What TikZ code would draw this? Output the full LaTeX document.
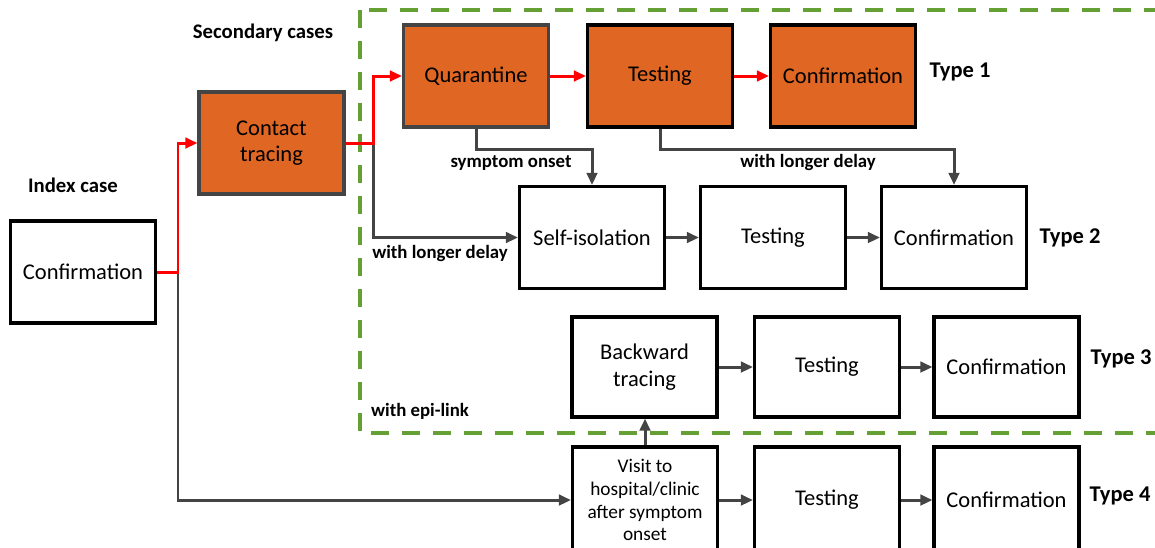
\documentclass[tikz,border=0pt]{standalone}
\usepackage{fontspec}
\setmainfont{Carlito}
\usepackage{tikz}
\usetikzlibrary{arrows.meta}

\definecolor{boxorange}{RGB}{224,102,35}
\definecolor{linegray}{RGB}{68,68,68}
\definecolor{epigreen}{RGB}{100,160,52}

\tikzset{
  stage/.style={draw=black, line width=1.8pt, fill=white, align=center,
    minimum width=29mm, minimum height=20.4mm, inner sep=1pt,
    font=\fontsize{12.8}{15}\selectfont},
  stagesmall/.style={stage, minimum height=20mm},
  active/.style={stage, fill=boxorange, draw=linegray},
  redline/.style={draw=red, line width=1.7pt, -{Triangle[length=2.4mm,width=2.1mm]}},
  grayline/.style={draw=linegray, line width=1.7pt, -{Triangle[length=2.4mm,width=2.1mm]}},
  note/.style={font=\bfseries\fontsize{10.7}{12}\selectfont},
  typelabel/.style={font=\bfseries\fontsize{12.8}{14}\selectfont},
  grouplabel/.style={font=\bfseries\fontsize{11.8}{13}\selectfont}
}

\begin{document}
\begin{tikzpicture}[x=0.2mm,y=-0.2mm]
\useasboundingbox (0,0) rectangle (1155,547);

\draw[epigreen, line width=2.2pt, dash pattern=on 3.6mm off 2.6mm] (360,10) rectangle (1175,433);

\node[stage] (idx) at (83,272) {Confirmation};
\node[active] (ct) at (271.5,143) {Contact\\tracing};

\node[active] (quar) at (476,76) {Quarantine};
\node[active, draw=black] (test1) at (660,76) {Testing};
\node[active, draw=black] (conf1) at (843,76) {Confirmation};

\node[stage] (iso) at (592,237.5) {Self-isolation};
\node[stage] (test2) at (773,237.5) {Testing};
\node[stage] (conf2) at (954,237.5) {Confirmation};

\node[stagesmall] (back) at (644.5,367) {Backward\\tracing};
\node[stagesmall] (test3) at (827,367) {Testing};
\node[stagesmall] (conf3) at (1006.5,367) {Confirmation};

\node[stagesmall, minimum height=21.2mm, font=\fontsize{11}{13}\selectfont] (visit) at (645,500) {Visit to\\hospital/clinic\\after symptom\\onset};
\node[stagesmall, minimum height=21.2mm] (test4) at (827,500) {Testing};
\node[stagesmall, minimum height=21.2mm] (conf4) at (1006.5,500) {Confirmation};

\node[grouplabel] (seclab) at (263,33) {Secondary cases};
\node[grouplabel] (idxlab) at (73,185) {Index case};
\node[typelabel] (type1) at (960,72) {Type 1};
\node[typelabel] (type2) at (1070,238) {Type 2};
\node[typelabel] (type3) at (1121,359) {Type 3};
\node[typelabel] (type4) at (1120,496) {Type 4};
\node[note] (onset) at (511,163) {symptom onset};
\node[note] (delay1) at (808,162) {with longer delay};
\node[note] (delay2) at (440,253) {with longer delay};
\node[note] (epi) at (420,411) {with epi-link};

\coordinate (j1) at (178,272);
\coordinate (j2) at (373,143);

\draw[grayline] (j1) |- (visit.west);
\draw[grayline] (j2) |- (iso.west);
\draw[redline] (idx.east) -- (j1) |- (ct.west);
\draw[redline] (ct.east) -- (j2) |- (quar.west);
\draw[redline] (quar) -- (test1);
\draw[redline] (test1) -- (conf1);

\draw[grayline] (quar.south) -- ++(0,21) -| (iso.north);
\draw[grayline] (test1.south) -- ++(0,21) -| (conf2.north);
\draw[grayline] (iso) -- (test2);
\draw[grayline] (test2) -- (conf2);
\draw[grayline] (back) -- (test3);
\draw[grayline] (test3) -- (conf3);
\draw[grayline] (visit) -- (test4);
\draw[grayline] (test4) -- (conf4);
\draw[grayline] (visit.north) -- (visit.north |- back.south);
\end{tikzpicture}
\end{document}
